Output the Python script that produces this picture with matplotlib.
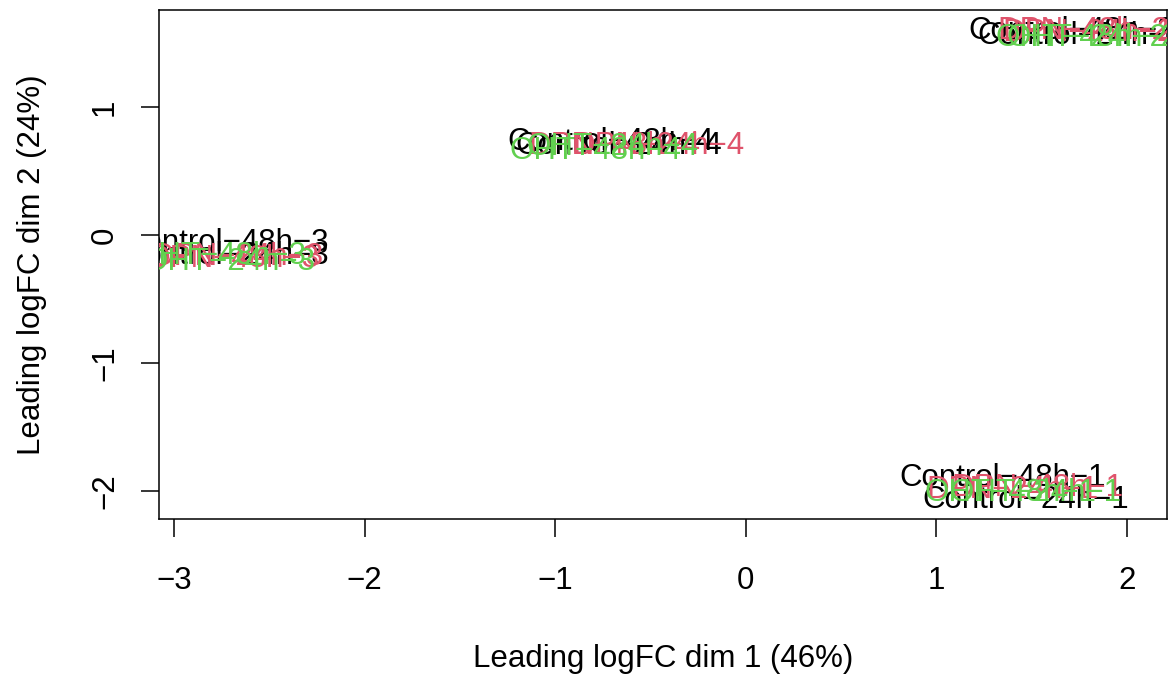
import matplotlib
matplotlib.use("Agg")
import matplotlib.pyplot as plt

# MDS coordinates
labels = ["Control-24h-1", "Control-48h-1", "DPN-24h-1", "DPN-48h-1", "OHT-24h-1", "OHT-48h-1",
          "Control-24h-2", "Control-48h-2", "DPN-24h-2", "DPN-48h-2", "OHT-24h-2", "OHT-48h-2",
          "Control-24h-3", "Control-48h-3", "DPN-24h-3", "DPN-48h-3", "OHT-24h-3", "OHT-48h-3",
          "Control-24h-4", "Control-48h-4", "DPN-24h-4", "DPN-48h-4", "OHT-24h-4", "OHT-48h-4"]
dim1 = [1.47, 1.35, 1.40, 1.53, 1.52, 1.39,
        1.76, 1.71, 1.80, 1.77, 1.82, 1.76,
        -2.73, -2.73, -2.67, -2.69, -2.71, -2.76,
        -0.67, -0.71, -0.46, -0.69, -0.70, -0.79]
dim2 = [-2.07, -1.90, -1.99, -1.98, -2.02, -2.02,
        1.56, 1.60, 1.58, 1.60, 1.54, 1.54,
        -0.16, -0.06, -0.17, -0.19, -0.21, -0.16,
        0.70, 0.73, 0.70, 0.70, 0.69, 0.66]
treatment = ["Control", "Control", "DPN", "DPN", "OHT", "OHT"] * 4
colours = {"Control": "black", "DPN": "#DF536B", "OHT": "#61D04F"}

plt.rcParams['font.family'] = ['Liberation Sans', 'DejaVu Sans']
fig = plt.figure(figsize=(11.76, 6.75), dpi=100)
ax = fig.add_axes([0.1352, 0.231, 0.8571, 0.754])

for lab, x, y, t in zip(labels, dim1, dim2, treatment):
    ax.text(x, y, lab.replace("-", "\u2212"), color=colours[t], fontsize=22.5,
            ha="center", va="center", clip_on=True)

ax.set_xlim(-3.08, 2.21)
ax.set_ylim(-2.22, 1.76)
ax.set_xticks([-3, -2, -1, 0, 1, 2])
ax.set_xticklabels(["\u22123", "\u22122", "\u22121", "0", "1", "2"])
ax.set_yticks([-2, -1, 0, 1])
ax.set_yticklabels(["\u22122", "\u22121", "0", "1"], rotation=90, va="center")
ax.tick_params(direction="out", length=13, width=1.1, labelsize=22.5)
ax.tick_params(axis="x", pad=21)
ax.tick_params(axis="y", pad=15)
for s in ax.spines.values():
    s.set_linewidth(1.1)
ax.set_xlabel("Leading logFC dim 1 (46%)", fontsize=22.5, labelpad=34)
ax.set_ylabel("Leading logFC dim 2 (24%)", fontsize=22.5, labelpad=31)

fig.savefig("out.png", dpi=100)
